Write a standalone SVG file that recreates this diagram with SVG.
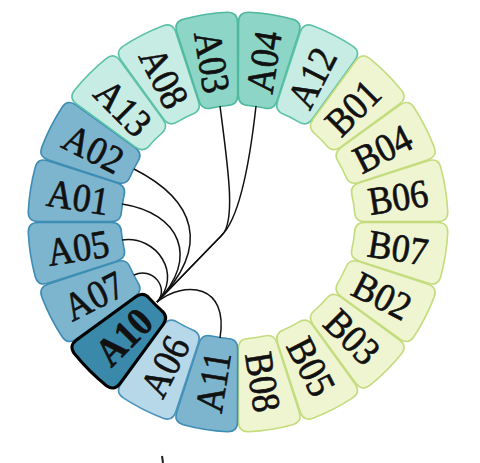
<svg xmlns="http://www.w3.org/2000/svg" xmlns:xlink="http://www.w3.org/1999/xlink" width="480" height="463" viewBox="0 0 480 463">
<style>
.n{stroke-width:1.6}
.t{font-family:"Liberation Serif","Times New Roman",serif;font-size:36px;fill:#111;stroke:#111;stroke-width:0.6;text-anchor:middle}
.tb{font-weight:bold}
.ta{fill:#8dd5c6;stroke:#4fb89e}
.tl{fill:#c7ece4;stroke:#5cc2a8}
.bm{fill:#7db4ce;stroke:#3d8db5}
.bl{fill:#b7d8e8;stroke:#4a94bb}
.bd{fill:#3b89aa;stroke:#000;stroke-width:3}
.g{fill:#eef5d0;stroke:#c4dc7e}
.e{fill:none;stroke:#111;stroke-width:1.5}
</style>
<defs>
<path id="s" d="M -22.39 -208.80 A 210 210 0 0 1 22.39 -208.80 Q 32.31 -207.50 30.77 -197.62 L 19.54 -125.49 Q 18.00 -115.61 8.07 -116.72 A 117 117 0 0 0 -8.07 -116.72 Q -18.00 -115.61 -19.54 -125.49 L -30.77 -197.62 Q -32.31 -207.50 -22.39 -208.80 Z"/>
</defs>
<rect width="480" height="463" fill="#fff"/>
<g id="nodes">
<g id="A04" transform="translate(238,222) rotate(9)"><use xlink:href="#s" class="n ta"/><text class="t" transform="translate(0,-162) rotate(-90) scale(1,1.1)" dy="0.35em">A04</text></g>
<g id="A12" transform="translate(238,222) rotate(27)"><use xlink:href="#s" class="n tl"/><text class="t" transform="translate(0,-162) rotate(-90) scale(1,1.1)" dy="0.35em">A12</text></g>
<g id="B01" transform="translate(238,222) rotate(45)"><use xlink:href="#s" class="n g"/><text class="t" transform="translate(0,-162) rotate(-90) scale(1,1.1)" dy="0.35em">B01</text></g>
<g id="B04" transform="translate(238,222) rotate(63)"><use xlink:href="#s" class="n g"/><text class="t" transform="translate(0,-162) rotate(-90) scale(1,1.1)" dy="0.35em">B04</text></g>
<g id="B06" transform="translate(238,222) rotate(81)"><use xlink:href="#s" class="n g"/><text class="t" transform="translate(0,-162) rotate(-90) scale(1,1.1)" dy="0.35em">B06</text></g>
<g id="B07" transform="translate(238,222) rotate(99)"><use xlink:href="#s" class="n g"/><text class="t" transform="translate(0,-162) rotate(-90) scale(1,1.1)" dy="0.35em">B07</text></g>
<g id="B02" transform="translate(238,222) rotate(117)"><use xlink:href="#s" class="n g"/><text class="t" transform="translate(0,-162) rotate(-90) scale(1,1.1)" dy="0.35em">B02</text></g>
<g id="B03" transform="translate(238,222) rotate(135)"><use xlink:href="#s" class="n g"/><text class="t" transform="translate(0,-162) rotate(-90) scale(1,1.1)" dy="0.35em">B03</text></g>
<g id="B05" transform="translate(238,222) rotate(153)"><use xlink:href="#s" class="n g"/><text class="t" transform="translate(0,-162) rotate(-90) scale(1,1.1)" dy="0.35em">B05</text></g>
<g id="B08" transform="translate(238,222) rotate(171)"><use xlink:href="#s" class="n g"/><text class="t" transform="translate(0,-162) rotate(-90) scale(1,1.1)" dy="0.35em">B08</text></g>
<g id="A11" transform="translate(238,222) rotate(189)"><use xlink:href="#s" class="n bm"/><text class="t" transform="translate(0,-162) rotate(90) scale(1,1.1)" dy="0.35em">A11</text></g>
<g id="A06" transform="translate(238,222) rotate(207)"><use xlink:href="#s" class="n bl"/><text class="t" transform="translate(0,-162) rotate(90) scale(1,1.1)" dy="0.35em">A06</text></g>
<g id="A07" transform="translate(238,222) rotate(243)"><use xlink:href="#s" class="n bm"/><text class="t" transform="translate(0,-162) rotate(90) scale(1,1.1)" dy="0.35em">A07</text></g>
<g id="A05" transform="translate(238,222) rotate(261)"><use xlink:href="#s" class="n bm"/><text class="t" transform="translate(0,-162) rotate(90) scale(1,1.1)" dy="0.35em">A05</text></g>
<g id="A01" transform="translate(238,222) rotate(279)"><use xlink:href="#s" class="n bm"/><text class="t" transform="translate(0,-162) rotate(90) scale(1,1.1)" dy="0.35em">A01</text></g>
<g id="A02" transform="translate(238,222) rotate(297)"><use xlink:href="#s" class="n bm"/><text class="t" transform="translate(0,-162) rotate(90) scale(1,1.1)" dy="0.35em">A02</text></g>
<g id="A13" transform="translate(238,222) rotate(315)"><use xlink:href="#s" class="n tl"/><text class="t" transform="translate(0,-162) rotate(90) scale(1,1.1)" dy="0.35em">A13</text></g>
<g id="A08" transform="translate(238,222) rotate(333)"><use xlink:href="#s" class="n tl"/><text class="t" transform="translate(0,-162) rotate(90) scale(1,1.1)" dy="0.35em">A08</text></g>
<g id="A03" transform="translate(238,222) rotate(351)"><use xlink:href="#s" class="n ta"/><text class="t" transform="translate(0,-162) rotate(90) scale(1,1.1)" dy="0.35em">A03</text></g>
<g id="A10" transform="translate(238,222) rotate(225)"><use xlink:href="#s" class="bd"/><text class="t tb" transform="translate(0,-162) rotate(90) scale(1,1.1)" dy="0.35em">A10</text></g>
</g>
<g id="connectors">
<path class="e" d="M134,169 C195,200 212,246 157,302"/>
<path class="e" d="M122,204 C180,213 200,258 157,302"/>
<path class="e" d="M122,240 C157,235 183,275 157,302"/>
<path class="e" d="M134,275 C152,266 170,288 157,302"/>
<path class="e" d="M220,106 C228,168 236,221 222,235 L157,302"/>
<path class="e" d="M256,106 C250,160 240,217 222,235 L157,302"/>
<path class="e" d="M157,302 C185,280 229,284 220,338"/>
</g>
<path d="M162,456 L163,463" stroke="#222" stroke-width="2"/>
</svg>
